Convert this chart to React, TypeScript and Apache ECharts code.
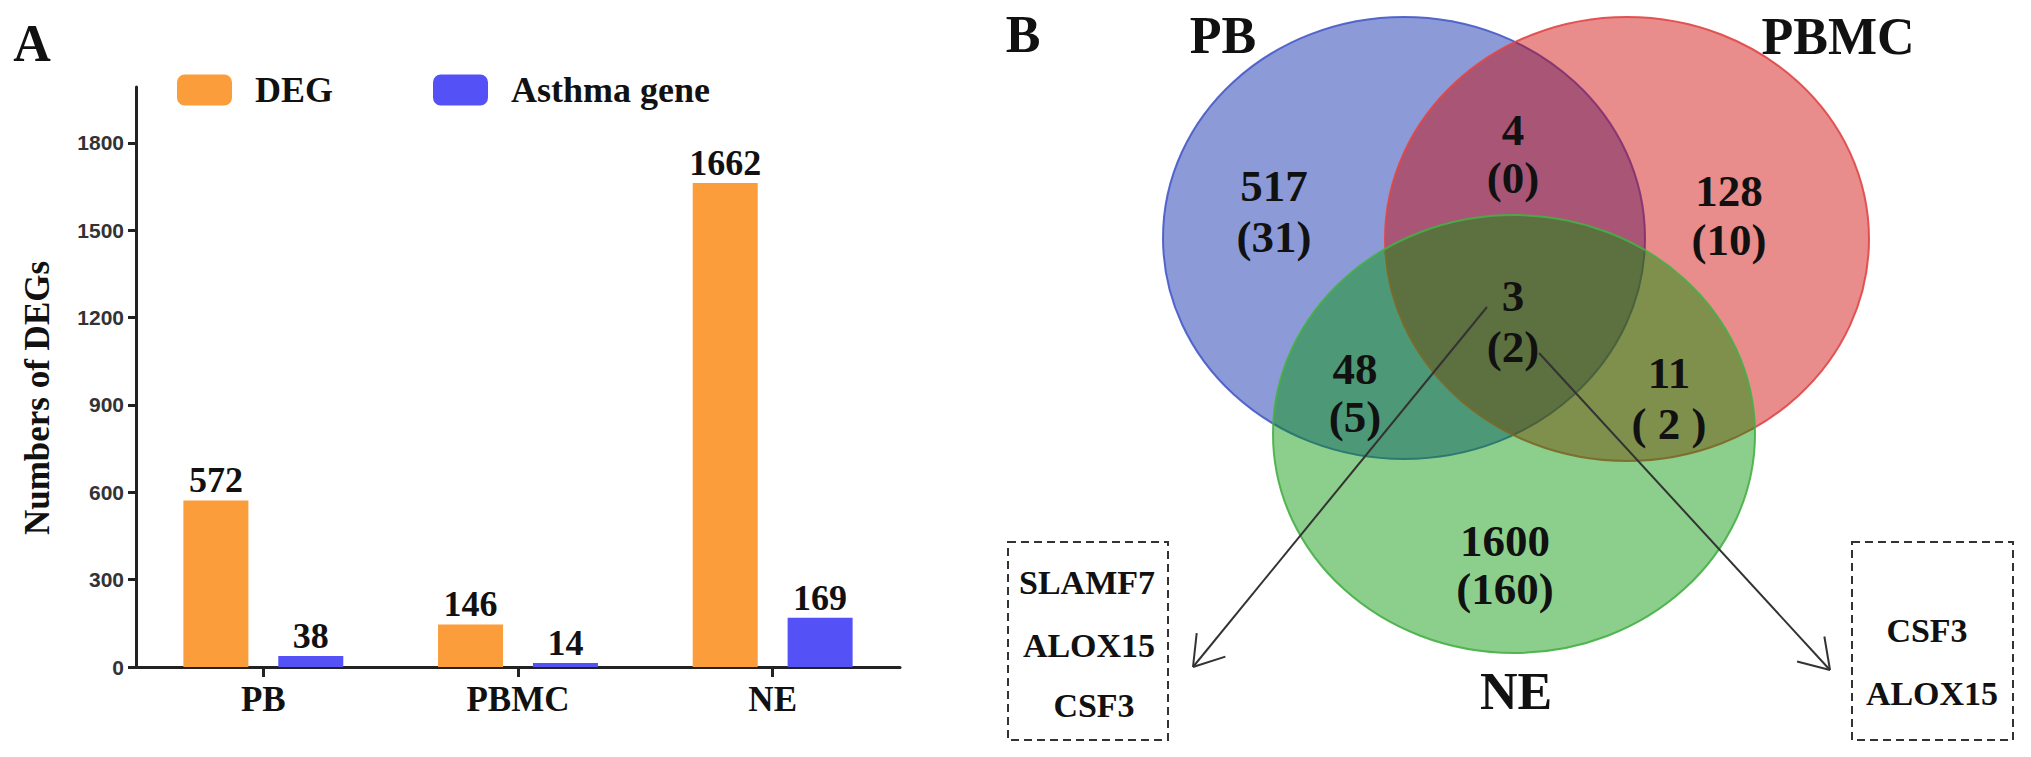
import React, { useEffect, useRef } from 'react';
import * as echarts from 'echarts';

// ---------- data ----------
const categories = ['PB', 'PBMC', 'NE'];
const seriesNames = ['DEG', 'Asthma gene'];
const degValues = [572, 146, 1662];
const asthmaValues = [38, 14, 169];
const yTickValues = [0, 300, 600, 900, 1200, 1500, 1800];

const vennSetNames = ['PB', 'PBMC', 'NE'];
// regions: PB only, PBMC only, NE only, PB∩PBMC, PB∩NE, PBMC∩NE, all three
const vennCounts = ['517', '128', '1600', '4', '48', '11', '3'];
const vennAsthma = ['(31)', '(10)', '(160)', '(0)', '(5)', '( 2 )', '(2)'];
const leftGenes = ['SLAMF7', 'ALOX15', 'CSF3'];
const rightGenes = ['CSF3', 'ALOX15'];

// ---------- layout (positions / styles) ----------
const SERIF = 'Liberation Serif';
const SANS = 'Liberation Sans';
const INK = '#111';

const ellipses = [
  { cx: 1404, cy: 238, rx: 241, ry: 221, fill: 'rgba(0,33,169,0.45)', stroke: 'rgba(70,90,200,0.9)' },
  { cx: 1627, cy: 239, rx: 242, ry: 222, fill: 'rgba(204,0,0,0.45)', stroke: 'rgba(225,70,70,0.9)' },
  { cx: 1514, cy: 434, rx: 241, ry: 219, fill: 'rgba(0,149,0,0.45)', stroke: 'rgba(70,175,70,0.9)' },
];
const setLabelPos = [
  [1223, 35],
  [1838, 36],
  [1516, 691],
];
// [x, first line centre y, second line centre y]
const countPos = [
  [1274, 186, 237],
  [1729, 191, 240],
  [1505, 541, 589],
  [1513, 130, 178],
  [1355, 369, 417],
  [1669, 373, 424],
  [1513, 296, 347],
];
const leftBox = { x: 1008, y: 542, w: 160, h: 198 };
const rightBox = { x: 1852, y: 542, w: 161, h: 198 };
const leftGenePos = [[1087, 582], [1089, 645], [1094, 705]];
const rightGenePos = [[1927, 630], [1932, 693]];
const arrows = [
  { x1: 1487, y1: 307, x2: 1193, y2: 667 },
  { x1: 1539, y1: 353, x2: 1830, y2: 670 },
];

function txt(text: string, x: number, y: number, size: number) {
  return {
    type: 'text',
    x,
    y,
    z: 10,
    style: {
      text,
      fontSize: size,
      fontWeight: 'bold',
      fontFamily: SERIF,
      fill: INK,
      align: 'center',
      verticalAlign: 'middle',
    },
  };
}

function arrowElems(a: { x1: number; y1: number; x2: number; y2: number }) {
  const ang = Math.atan2(a.y1 - a.y2, a.x1 - a.x2);
  const len = 34;
  const spread = (33 * Math.PI) / 180;
  const lineStyle = { stroke: '#333', lineWidth: 2 };
  const out: any[] = [
    { type: 'line', z: 5, shape: { x1: a.x1, y1: a.y1, x2: a.x2, y2: a.y2 }, style: lineStyle },
  ];
  [ang - spread, ang + spread].forEach((t) => {
    out.push({
      type: 'line',
      z: 5,
      shape: { x1: a.x2, y1: a.y2, x2: a.x2 + len * Math.cos(t), y2: a.y2 + len * Math.sin(t) },
      style: lineStyle,
    });
  });
  return out;
}

function buildGraphic() {
  const g: any[] = [];
  g.push(txt('A', 32, 43, 52));
  g.push(txt('B', 1023, 34, 52));
  ellipses.forEach((e) => {
    g.push({
      type: 'ellipse',
      z: 1,
      shape: { cx: e.cx, cy: e.cy, rx: e.rx, ry: e.ry },
      style: { fill: e.fill, stroke: e.stroke, lineWidth: 2 },
    });
  });
  arrows.forEach((a) => g.push(...arrowElems(a)));
  vennSetNames.forEach((n, i) => g.push(txt(n, setLabelPos[i][0], setLabelPos[i][1], 52)));
  vennCounts.forEach((c, i) => {
    const p = countPos[i];
    g.push(txt(c, p[0], p[1], 45));
    g.push(txt(vennAsthma[i], p[0], p[2], 45));
  });
  [leftBox, rightBox].forEach((b) => {
    g.push({
      type: 'rect',
      z: 5,
      shape: { x: b.x, y: b.y, width: b.w, height: b.h },
      style: { fill: 'transparent', stroke: '#333', lineWidth: 2, lineDash: [8, 5] },
    });
  });
  leftGenes.forEach((s, i) => g.push(txt(s, leftGenePos[i][0], leftGenePos[i][1], 34)));
  rightGenes.forEach((s, i) => g.push(txt(s, rightGenePos[i][0], rightGenePos[i][1], 34)));
  return g;
}

export default function App() {
  const ref = useRef<HTMLDivElement>(null);

  useEffect(() => {
    document.body.style.margin = '0';
    if (!ref.current) return;
    const chart = echarts.init(ref.current, undefined, { renderer: 'svg' });

    const barLabel = {
      show: true,
      position: 'top',
      distance: 2,
      fontSize: 36,
      fontWeight: 'bold',
      fontFamily: SERIF,
      color: INK,
    };

    const option: any = {
      animation: false,
      backgroundColor: '#ffffff',
      textStyle: { fontFamily: SERIF },
      legend: {
        data: seriesNames,
        left: 177,
        top: 72,
        itemWidth: 55,
        itemHeight: 31,
        itemGap: 100,
        icon: 'roundRect',
        padding: 0,
        textStyle: {
          fontSize: 36,
          fontWeight: 'bold',
          fontFamily: SERIF,
          color: INK,
          padding: [0, 0, 0, 18],
        },
      },
      grid: { left: 136, top: 87, width: 764, height: 580, containLabel: false },
      xAxis: {
        type: 'category',
        data: categories,
        axisLine: { show: true, lineStyle: { color: '#222', width: 3 } },
        axisTick: { show: true, alignWithLabel: true, length: 10, lineStyle: { color: '#222', width: 3 } },
        axisLabel: { fontSize: 35, fontWeight: 'bold', fontFamily: SERIF, color: INK, margin: 15 },
        splitLine: { show: false },
      },
      yAxis: {
        type: 'value',
        min: 0,
        max: 1992,
        interval: 300,
        name: 'Numbers of DEGs',
        nameLocation: 'middle',
        nameRotate: 90,
        nameGap: 81,
        nameTextStyle: {
          fontSize: 35,
          fontWeight: 'bold',
          fontFamily: SERIF,
          color: INK,
          padding: [0, 42, 0, 0],
        },
        axisLine: { show: true, lineStyle: { color: '#222', width: 3 } },
        axisTick: {
          show: true,
          length: 8,
          customValues: yTickValues,
          lineStyle: { color: '#222', width: 3 },
        },
        axisLabel: {
          fontSize: 21,
          fontWeight: 'bold',
          fontFamily: SANS,
          color: '#333',
          margin: 12,
          customValues: yTickValues,
          formatter: (v: number) => String(v),
        },
        splitLine: { show: false },
      },
      series: [
        {
          name: seriesNames[0],
          type: 'bar',
          data: degValues,
          barWidth: 65,
          barGap: '46%',
          itemStyle: { color: '#FB9D3B' },
          label: barLabel,
        },
        {
          name: seriesNames[1],
          type: 'bar',
          data: asthmaValues,
          barWidth: 65,
          barGap: '46%',
          itemStyle: { color: '#5452F6' },
          label: barLabel,
        },
      ],
      graphic: buildGraphic(),
    };

    chart.setOption(option);
    return () => chart.dispose();
  }, []);

  return <div ref={ref} style={{ width: 2031, height: 757 }} />;
}
